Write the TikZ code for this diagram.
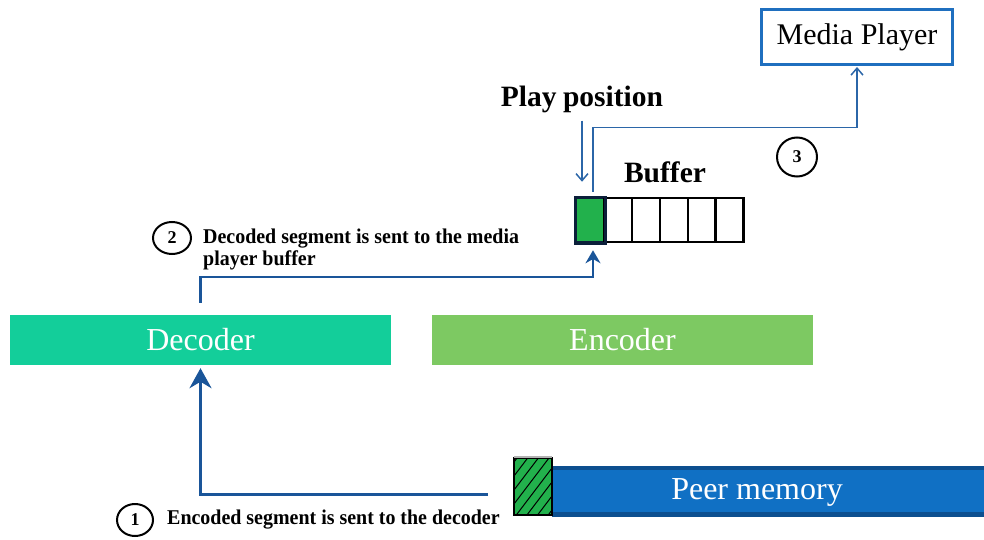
\documentclass[tikz,border=0pt]{standalone}
\usepackage{fontspec}
\setmainfont{Liberation Serif}
\usetikzlibrary{arrows.meta,shapes.geometric}
\definecolor{mpblue}{HTML}{1F6FBF}
\definecolor{arrblue}{HTML}{1A5599}
\definecolor{arrblue3}{HTML}{2B66A8}
\definecolor{decgreen}{HTML}{13CE9A}
\definecolor{encgreen}{HTML}{7DC962}
\definecolor{cellgreen}{HTML}{22B14C}
\definecolor{celldark}{HTML}{0B1F3A}
\definecolor{pmblue}{HTML}{1070C4}
\definecolor{pmdark}{HTML}{0D4F8F}
\tikzset{
  mpbox/.style={draw=mpblue, line width=3pt, fill=white, minimum width=191pt, minimum height=55pt, inner sep=0pt, font=\fontsize{30}{32}\selectfont},
  codec/.style={minimum width=381pt, minimum height=50pt, inner sep=0pt, text=white, font=\fontsize{32}{34}\selectfont},
  cellbox/.style={draw=black, line width=2.5pt, fill=white, minimum width=28pt, minimum height=44pt, inner sep=0pt},
  bigbold/.style={inner sep=0pt, font=\bfseries\fontsize{29.5}{31}\selectfont},
  lbl/.style={inner sep=0pt, align=left, font=\bfseries\fontsize{21}{22}\selectfont},
  numc/.style={ellipse, draw=black, line width=2pt, inner sep=0pt, font=\bfseries\fontsize{18}{20}\selectfont},
  arrone/.style={draw=arrblue, line width=3pt, -{Stealth[length=20pt,width=22pt]}},
  arrtwo/.style={draw=arrblue, line width=2.5pt, -{Stealth[length=13pt,width=15pt]}},
  arrthin/.style={draw=arrblue3, line width=1.5pt, -{Straight Barb[length=7pt,width=12pt]}},
}
\begin{document}
\begin{tikzpicture}[x=1pt,y=-1pt]
\useasboundingbox (0,0) rectangle (984,540);

% boxes
\node[mpbox] (mp) at (857,37) {Media Player};
\node[codec, fill=decgreen] (dec) at (200.5,340) {Decoder};
\node[codec, fill=encgreen] (enc) at (622.5,340) {Encoder};

% buffer cells
\node[cellbox, fill=cellgreen, draw=celldark] (c1) at (590,220) {};
\node[cellbox] (c2) at (618,220) {};
\node[cellbox] (c3) at (646,220) {};
\node[cellbox] (c4) at (674,220) {};
\node[cellbox] (c5) at (702,220) {};
\node[cellbox] (c6) at (729.5,220) {};
\draw[draw=celldark, line width=2.5pt] (c1.north west) rectangle (c1.south east);

% titles
\node[bigbold] (pp) at (582,99) {Play\hspace{-1pt} position};
\node[bigbold] (buf) at (665,172) {Buffer};

% peer memory
\node[fill=pmblue, minimum width=432pt, minimum height=51pt, inner sep=0pt] (pm) at (768,491.5) {};
\fill[pmdark] (pm.north west) rectangle ([yshift=-4pt]pm.north east);
\fill[pmdark] (pm.south west) rectangle ([yshift=5pt]pm.south east);
\node[text=white, inner sep=0pt, font=\fontsize{32}{34}\selectfont] (pmt) at (757,492) {Peer memory};

% hatched segment
\node[fill=cellgreen, minimum width=38pt, minimum height=57pt, inner sep=0pt] (hb) at (533,486.5) {};
\begin{scope}
  \clip (514,458) rectangle (552,515);
  \foreach \k in {0,...,7} {
    \draw[black, line width=1pt] (514,{462+14*\k}) -- (552,{462+14*\k-50});
  }
\end{scope}
\draw[black, line width=2pt] (hb.north west) rectangle (hb.south east);
\draw[gray!60, line width=2pt] ([yshift=1pt]hb.north west) -- ([yshift=1pt]hb.north east);

% number circles and labels
\node[numc, minimum width=36pt, minimum height=32pt] (n1) at (135,520) {1};
\node[lbl, anchor=west] (t1) at (167,520) {\scalebox{0.95}[1]{Encoded segment is sent to the decoder}};
\node[numc, minimum width=38pt, minimum height=32pt] (n2) at (172,238) {2};
\node[lbl, anchor=north west] (t2) at (203,229) {\scalebox{0.95}[1]{Decoded segment is sent to the media}\\\scalebox{0.95}[1]{player buffer}};
\node[numc, minimum width=40pt, minimum height=39pt] (n3) at (797,157) {3};

% connectors
\coordinate (p1) at (488,494);
\draw[arrone, shorten >=3pt] (p1) -| (dec.south);
\draw[arrtwo, shorten <=12pt, shorten >=7pt] (dec.north) -- ++(0,-38) -| ([xshift=3pt]c1.south);
\draw[arrthin, shorten <=5pt, shorten >=1pt] ([xshift=3pt]c1.north) -- ++(0,-69) -| (mp.south);
\draw[arrthin, shorten <=8pt, shorten >=15pt] ([xshift=-8pt]c1.north |- pp.south) -- ([xshift=-8pt]c1.north);
\end{tikzpicture}
\end{document}
